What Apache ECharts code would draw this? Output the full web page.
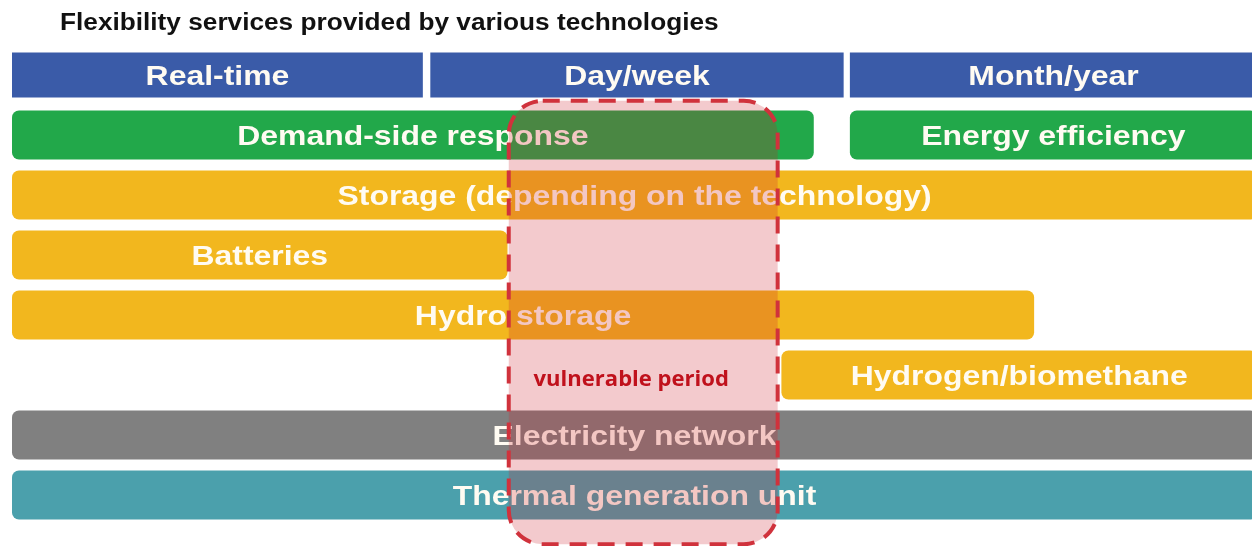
<!DOCTYPE html>
<html>
<head>
<meta charset="utf-8">
<script src="https://cdn.jsdelivr.net/npm/echarts@6/dist/echarts.min.js"></script>
<style>
  html, body { margin: 0; padding: 0; background: #fff; }
  #main { width: 1252px; height: 546px; }
</style>
</head>
<body>
<div id="main"></div>
<script>
// rows of the diagram, top to bottom (row 0 = time horizon header)
var rows = ['horizon', 'demand', 'storage', 'batteries', 'hydro', 'hydrogen', 'network', 'thermal'];

// each block: label, row, start, end (share of the time span, 0-100), kind
var labels = ['Real-time', 'Day/week', 'Month/year',
  'Demand-side response', 'Energy efficiency',
  'Storage (depending on the technology)',
  'Batteries', 'Hydro storage', 'Hydrogen/biomethane',
  'Electricity network', 'Thermal generation unit'];
var rowOf = [0, 0, 0, 1, 1, 2, 3, 4, 5, 6, 7];
var starts = [0, 33.6, 67.3, 0, 67.3, 0, 0, 0, 61.8, 0, 0];
var ends = [33.0, 66.8, 100, 64.4, 100, 100, 39.8, 82.1, 100, 100, 100];
var kinds = ['horizon', 'horizon', 'horizon', 'demand', 'demand', 'storage', 'storage', 'storage', 'storage', 'network', 'thermal'];

// vulnerable period window
var vulnStart = 39.9;
var vulnEnd = 61.5;
var vulnRows = [1, 7];
var vulnLabel = 'vulnerable period';

var titleText = 'Flexibility services provided by various technologies';

var palette = {
  horizon: '#3A5BA8',
  demand: '#22A84A',
  storage: '#F2B71E',
  network: '#808080',
  thermal: '#4BA0AC'
};
var stretch = 1.14; // source lettering is a bit wide

var blocks = labels.map(function (l, i) {
  return [starts[i], ends[i], rowOf[i], l, kinds[i]];
});

var chart = echarts.init(document.getElementById('main'));

chart.setOption({
  animation: false,
  graphic: [{
    type: 'text',
    x: 60,
    y: 24,
    scaleX: stretch,
    style: {
      text: titleText,
      x: 0, y: 0,
      verticalAlign: 'middle',
      fill: '#111',
      font: 'bold 23px "Liberation Sans"'
    }
  }],
  grid: { left: 12, right: 0, top: 45, height: 480 },
  xAxis: { type: 'value', min: 0, max: 99.6, show: false },
  yAxis: { type: 'category', data: rows, inverse: true, show: false },
  series: [{
    type: 'custom',
    clip: true,
    data: blocks,
    encode: { x: [0, 1], y: 2 },
    renderItem: function (params, api) {
      var a = api.coord([api.value(0), api.value(2)]);
      var b = api.coord([api.value(1), api.value(2)]);
      var band = api.size([0, 1])[1];
      var isHead = api.value(4) === 'horizon';
      var h = band * (isHead ? 0.75 : 0.82);
      var kind = api.value(4);
      return {
        type: 'group',
        children: [{
          type: 'rect',
          shape: { x: a[0], y: a[1] - h / 2, width: b[0] - a[0], height: h, r: isHead ? 0 : 7 },
          style: { fill: palette[kind] }
        }, {
          type: 'text',
          x: (a[0] + b[0]) / 2,
          y: a[1] + 2,
          scaleX: stretch,
          style: {
            text: api.value(3),
            x: 0, y: 0,
            align: 'center',
            verticalAlign: 'middle',
            fill: '#fffbf2',
            font: 'bold 28px "Liberation Sans"'
          }
        }]
      };
    }
  }, {
    type: 'custom',
    clip: false,
    z: 5,
    data: [[vulnStart, vulnEnd, vulnRows[0], vulnRows[1]]],
    encode: { x: [0, 1], y: [2, 3] },
    renderItem: function (params, api) {
      var band = api.size([0, 1])[1];
      var a = api.coord([api.value(0), api.value(2)]);
      var b = api.coord([api.value(1), api.value(3)]);
      var top = a[1] - band * 0.57;
      var bottom = b[1] + band * 0.82;
      var midRow = (api.value(2) + api.value(3)) / 2 + 1;
      var mid = api.coord([api.value(0), midRow]);
      return {
        type: 'group',
        children: [{
          type: 'rect',
          shape: { x: a[0], y: top, width: b[0] - a[0], height: bottom - top, r: 34 },
          style: {
            fill: 'rgba(205,35,45,0.24)',
            stroke: '#D0323C',
            lineWidth: 4,
            lineDash: [17, 11]
          }
        }, {
          type: 'text',
          x: (a[0] + b[0]) / 2 - 12,
          y: mid[1] + 5,
          scaleX: 1.05,
          style: {
            text: vulnLabel,
            x: 0, y: 0,
            align: 'center',
            verticalAlign: 'middle',
            fill: '#C0111C',
            font: 'bold 21px "Open Sans"'
          }
        }]
      };
    }
  }]
});
</script>
</body>
</html>
